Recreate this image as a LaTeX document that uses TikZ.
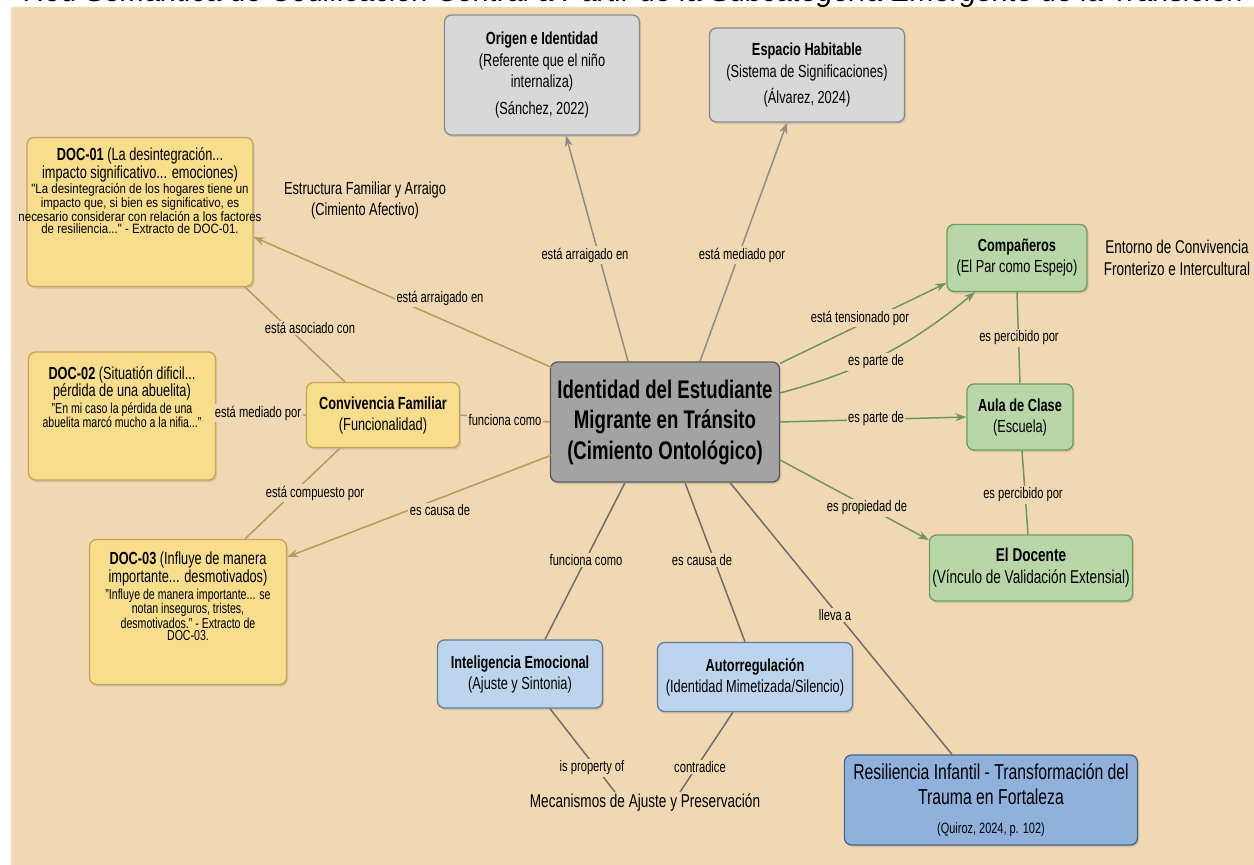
\documentclass[tikz,border=0pt]{standalone}
\usepackage{fontspec}
\setmainfont{Liberation Sans}[FakeStretch=0.73]
\newfontfamily\bodyfont{Liberation Sans}[FakeStretch=0.85]
\newfontfamily\titlefont{Liberation Sans}
\usetikzlibrary{arrows.meta,shadows,calc}
\definecolor{bg}{HTML}{EFD8B2}
\definecolor{grayfill}{HTML}{D8D8D8}
\definecolor{grayline}{HTML}{8A8A8A}
\definecolor{cfill}{HTML}{A3A3A3}
\definecolor{cline}{HTML}{5A5A5A}
\definecolor{yfill}{HTML}{F7DD8C}
\definecolor{yline}{HTML}{C4A553}
\definecolor{gfill}{HTML}{B7D7A8}
\definecolor{gline}{HTML}{6E9A5E}
\definecolor{bfill}{HTML}{BDD5EC}
\definecolor{bline}{HTML}{5F7E9C}
\definecolor{dbfill}{HTML}{8FB1DC}
\definecolor{dbline}{HTML}{4A6584}
\definecolor{conG}{HTML}{8C8C8C}
\definecolor{conY}{HTML}{B39B5E}
\definecolor{conGr}{HTML}{6F9463}
\definecolor{conD}{HTML}{6E6E6E}
\newcommand\docT{\fontsize{17.5}{18.5}\selectfont}
\newcommand\docA{\bodyfont\fontsize{13.5}{14.5}\selectfont}
\newcommand\docB{\fontsize{14.5}{15.5}\selectfont}
\tikzset{
  box/.style={rounded corners=7pt, line width=1.3pt, align=center, inner sep=2pt,
    drop shadow={shadow xshift=1.5pt, shadow yshift=-2pt, opacity=0.25}},
  graybox/.style={box, draw=grayline, fill=grayfill, font=\fontsize{17.5}{21.5}\selectfont},
  centerbox/.style={box, draw=cline, fill=cfill, font=\bfseries\fontsize{25.5}{30.5}\selectfont},
  ybox/.style={box, draw=yline, fill=yfill},
  gbox/.style={box, draw=gline, fill=gfill, font=\fontsize{17.5}{21}\selectfont},
  bbox/.style={box, draw=bline, fill=bfill, font=\fontsize{17.5}{21}\selectfont},
  dbbox/.style={box, draw=dbline, fill=dbfill, font=\fontsize{21.6}{25}\selectfont},
  boxtext/.style={align=center, inner sep=0pt, anchor=north},
  lab/.style={fill=bg, inner sep=1.5pt, font=\fontsize{15.3}{17}\selectfont},
  free/.style={align=center, inner sep=2pt, font=\fontsize{17.5}{21}\selectfont},
  con/.style={line width=1.5pt},
  tip/.style={-{Stealth[length=11pt,width=8pt]}},
  cg/.style={con, draw=conG},
  cy/.style={con, draw=conY},
  cgr/.style={con, draw=conGr},
  cd/.style={con, draw=conD},
}
\begin{document}
\begin{tikzpicture}[x=1pt,y=-1pt]
\useasboundingbox (0,0) rectangle (1254,865);
\fill[bg] (0,0) rectangle (1254,865);
\fill[white] (0,0) rectangle (1254,7);
\fill[white] (0,0) rectangle (11,865);
\node[anchor=base west, inner sep=0pt, font=\titlefont\itshape\fontsize{29}{31}\selectfont] (title) at (24,1) {Red Semántica de Codificación Central a Partir de la Subcategoría Emergente de la Transición};

% nodes
\node[graybox, minimum width=195, minimum height=120] (origen) at (542,75)
  {\textbf{Origen e Identidad}\\(Referente que el niño\\internaliza)\\[5pt](Sánchez, 2022)};
\node[graybox, minimum width=195, minimum height=94] (espacio) at (807,75)
  {\textbf{Espacio Habitable}\\(Sistema de Significaciones)\\[5pt](Álvarez, 2024)};
\node[centerbox, minimum width=229, minimum height=120] (c) at (665,422)
  {Identidad del Estudiante\\Migrante en Tránsito\\(Cimiento Ontológico)};

\node[ybox, minimum width=226, minimum height=149] (doc1) at (140,212) {};
\node[boxtext] (doc1t) at ([yshift=-11]doc1.north)
  {\docT\textbf{DOC-01} (La desintegración...\\
   \docT impacto significativo... emociones)\\[1pt]
   \docA "La desintegración de los hogares tiene un\\
   \docA impacto que, si bien es significativo, es\\
   \docA necesario considerar con relación a los factores\\
   \docA de resiliencia..." - Extracto de DOC-01.};

\node[ybox, minimum width=187, minimum height=128] (doc2) at (122,416) {};
\node[boxtext] (doc2t) at ([yshift=-15]doc2.north)
  {\docT\textbf{DOC-02} (Situatión dificil...\\
   \docT pérdida de una abuelita)\\[1pt]
   \docB "En mi caso la pérdida de una\\
   \docB abuelita marcó mucho a la nifia..."};

\node[ybox, minimum width=153, minimum height=65, font=\fontsize{17.5}{21}\selectfont] (conv) at (383,415)
  {\textbf{Convivencia Familiar}\\(Funcionalidad)};

\node[ybox, minimum width=197, minimum height=145] (doc3) at (188,612) {};
\node[boxtext] (doc3t) at ([yshift=-13]doc3.north)
  {\docT\textbf{DOC-03} (Influye de manera\\
   \docT importante... desmotivados)\\[2pt]
   \docB "Influye de manera importante... se\\
   \docB notan inseguros, tristes,\\
   \docB desmotivados." - Extracto de\\
   \docB DOC-03.};

\node[gbox, minimum width=140, minimum height=67] (comp) at (1017,258)
  {\textbf{Compañeros}\\(El Par como Espejo)};
\node[gbox, minimum width=106, minimum height=66] (aula) at (1020,417)
  {\textbf{Aula de Clase}\\(Escuela)};
\node[gbox, minimum width=203, minimum height=66, font=\fontsize{18.6}{22}\selectfont] (docente) at (1031,568)
  {\textbf{El Docente}\\(Vínculo de Validación Extensial)};

\node[bbox, minimum width=165, minimum height=68] (intel) at (520,674)
  {\textbf{Inteligencia Emocional}\\(Ajuste y Sintonia)};
\node[bbox, minimum width=195, minimum height=69] (auto) at (755,677)
  {\textbf{Autorregulación}\\(Identidad Mimetizada/Silencio)};
\node[dbbox, minimum width=293, minimum height=90] (resil) at (991,800)
  {Resiliencia Infantil - Transformación del\\Trauma en Fortaleza\\[4pt]\fontsize{15}{17}\selectfont (Quiroz, 2024, p. 102)};

\node[free] (estr) at (365,200) {Estructura Familiar y Arraigo\\(Cimiento Afectivo)};
\node[free, font=\fontsize{18.5}{22}\selectfont] (ent) at (1177,258) {Entorno de Convivencia\\Fronterizo e Intercultural};
\node[free, font=\fontsize{18.6}{21}\selectfont] (mech) at (645,803) {Mecanismos de Ajuste y Preservación};

% connectors
\draw[cg,tip] ([xshift=-37]c.north) -- ([xshift=24]origen.south);
\draw[cg,tip] ([xshift=35]c.north) -- ([xshift=-20]espacio.south);
\draw[cy,tip] ([xshift=4,yshift=-7]c.north west) -- ([yshift=-25]doc1.east);
\draw[cy] ([xshift=105]doc1.south) -- ([xshift=-38]conv.north);
\draw[cy] (doc2.east) -- (conv.west);
\draw[cy] (conv.east) -- (c.west);
\draw[cy] ([xshift=-43]conv.south) -- ([xshift=57]doc3.north);
\draw[cy,tip] ([xshift=2,yshift=-33]c.west) -- ([yshift=55]doc3.east);
\draw[cgr,tip] ([yshift=-2]c.north east) -- ([yshift=-25]comp.west);
\draw[cgr,tip] ([yshift=29]c.east) to[bend right=12] ([xshift=-42]comp.south);
\draw[cgr,tip] (c.east) -- (aula.west);
\draw[cgr] (comp.south) -- (aula.north);
\draw[cgr] ([xshift=2]aula.south) -- ([xshift=-3]docente.north);
\draw[cgr,tip] ([yshift=-38]c.east) -- ([yshift=28]docente.west);
\draw[cd] ([xshift=-40]c.south) -- ([xshift=25]intel.north);
\draw[cd] ([xshift=20]c.south) -- ([xshift=-10]auto.north);
\draw[cd] ([xshift=65]c.south) -- ([xshift=-39]resil.north);
\draw[cd] ([xshift=30]intel.south) -- ([xshift=-30]mech.north);
\draw[cd] ([xshift=-22]auto.south) -- ([xshift=35]mech.north);

% labels
\node[lab] (l1) at (585,255) {está arraigado en};
\node[lab] (l2) at (742,255) {está mediado por};
\node[lab] (l3) at (440,298) {está arraigado en};
\node[lab] (l4) at (310,328) {está asociado con};
\node[lab] (l5) at (258,413) {está mediado por};
\node[lab] (l6) at (505,420) {funciona como};
\node[lab] (l7) at (315,493) {está compuesto por};
\node[lab] (l8) at (440,510) {es causa de};
\node[lab] (l9) at (860,318) {está tensionado por};
\node[lab] (l10) at (876,362) {es parte de};
\node[lab] (l11) at (1019,338) {es percibido por};
\node[lab] (l12) at (876,419) {es parte de};
\node[lab] (l13) at (1023,495) {es percibido por};
\node[lab] (l14) at (867,508) {es propiedad de};
\node[lab] (l15) at (586,560) {funciona como};
\node[lab] (l16) at (702,560) {es causa de};
\node[lab] (l17) at (835,615) {lleva a};
\node[lab] (l18) at (592,768) {is property of};
\node[lab] (l19) at (700,767) {contradice};
\end{tikzpicture}
\end{document}
